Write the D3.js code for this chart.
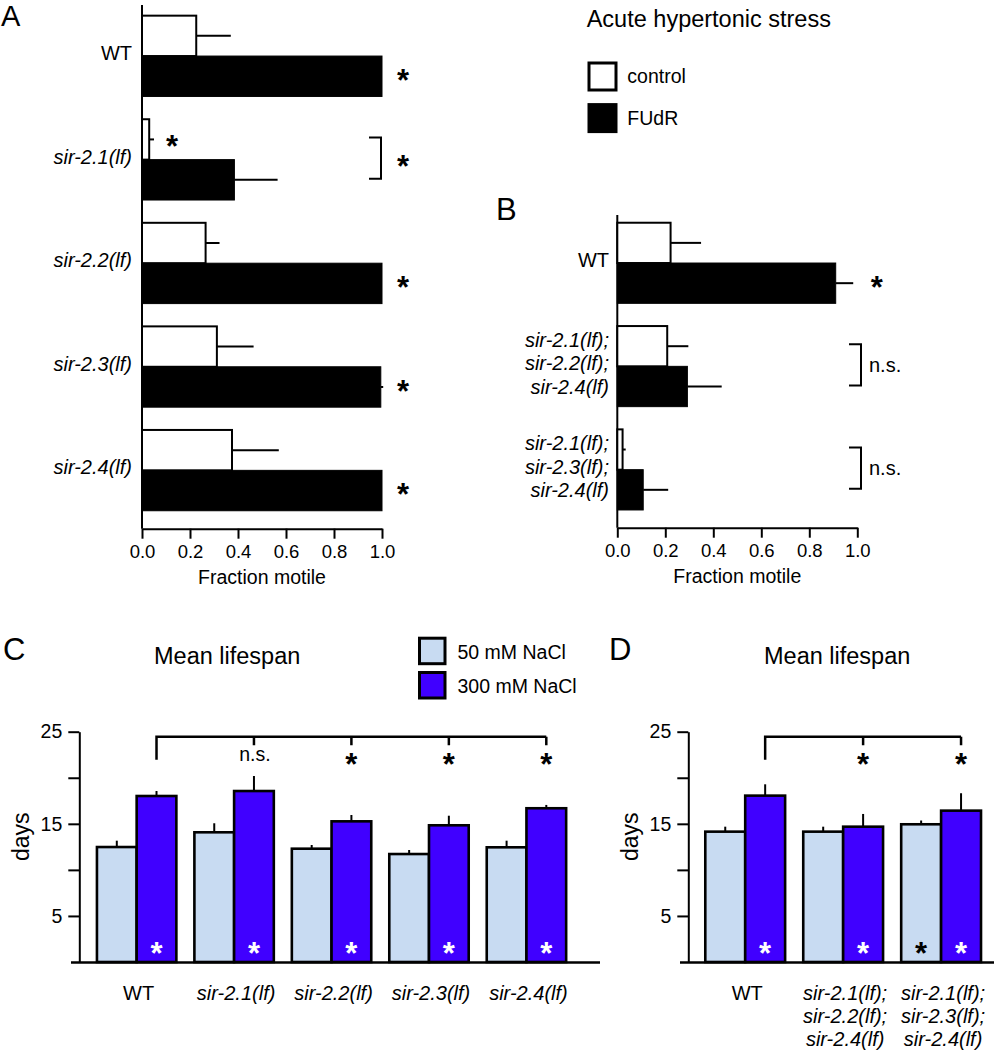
<!DOCTYPE html>
<html>
<head>
<meta charset="utf-8">
<script src="https://cdn.jsdelivr.net/npm/d3@7"></script>
<style>
  html, body { margin: 0; padding: 0; background: #fff; }
  svg { display: block; }
</style>
</head>
<body>
<div id="chart"></div>
<script>
// ---------------- DATA ----------------
// Panel A: acute hypertonic stress, single mutants
const genosA = ["WT", "sir-2.1(lf)", "sir-2.2(lf)", "sir-2.3(lf)", "sir-2.4(lf)"];
const controlA = [0.226, 0.030, 0.265, 0.312, 0.375];
const controlErrA = [0.144, 0.020, 0.058, 0.153, 0.195];
const fudrA = [1.0, 0.385, 1.0, 0.995, 1.0];
const fudrErrA = [0, 0.180, 0, 0.010, 0];
const sigTypeA = ["fudr", "bracket", "fudr", "fudr", "fudr"];
const sigLabelA = ["*", "*", "*", "*", "*"];
const controlSigA = ["", "*", "", "", ""];

// Panel B: triple mutants
const genosB = [["WT"], ["sir-2.1(lf);", "sir-2.2(lf);", "sir-2.4(lf)"], ["sir-2.1(lf);", "sir-2.3(lf);", "sir-2.4(lf)"]];
const controlB = [0.222, 0.208, 0.022];
const controlErrB = [0.127, 0.088, 0.013];
const fudrB = [0.910, 0.292, 0.108];
const fudrErrB = [0.073, 0.143, 0.104];
const sigTypeB = ["fudr", "bracket", "bracket"];
const sigLabelB = ["*", "n.s.", "n.s."];

const xTicksAB = [0, 0.2, 0.4, 0.6, 0.8, 1.0];
const seriesAB = ["control", "FUdR"];

// Panel C: mean lifespan, single mutants
const genosC = [["WT"], ["sir-2.1(lf)"], ["sir-2.2(lf)"], ["sir-2.3(lf)"], ["sir-2.4(lf)"]];
const nacl50C = [12.48, 14.08, 12.30, 11.72, 12.45];
const err50C = [0.69, 0.98, 0.40, 0.44, 0.72];
const nacl300C = [18.02, 18.56, 15.27, 14.84, 16.69];
const err300C = [0.54, 1.63, 0.69, 1.04, 0.36];
const inStar50C = ["", "", "", "", ""];
const inStar300C = ["*", "*", "*", "*", "*"];
const vsWtC = ["", "n.s.", "*", "*", "*"];

// Panel D: mean lifespan, triple mutants
const genosD = [["WT"], ["sir-2.1(lf);", "sir-2.2(lf);", "sir-2.4(lf)"], ["sir-2.1(lf);", "sir-2.3(lf);", "sir-2.4(lf)"]];
const nacl50D = [14.15, 14.15, 14.95];
const err50D = [0.54, 0.54, 0.41];
const nacl300D = [18.06, 14.69, 16.43];
const err300D = [1.23, 1.38, 1.89];
const inStar50D = ["", "", "*"];
const inStar300D = ["*", "*", "*"];
const vsWtD = ["", "*", "*"];

const seriesCD = ["50 mM NaCl", "300 mM NaCl"];
const yTicksCD = [5, 10, 15, 20, 25];
const yLabelTicksCD = [5, 15, 25];

// ---------------- STYLE ----------------
const FONT = "'Liberation Sans', Arial, Helvetica, sans-serif";
const LIGHT = "#c8dbf2";
const PURPLE = "#4000ff";
const LABEL_FS = "20px";

const W = 995, H = 1050;
const svg = d3.select("#chart").append("svg")
  .attr("width", W).attr("height", H)
  .style("font-family", FONT);

function star(g, x, y, fill, size) {
  size = size || 31;
  g.append("text")
    .attr("x", x).attr("y", y)
    .attr("dy", "0.54em")
    .attr("text-anchor", "middle")
    .style("font-size", size + "px")
    .style("font-weight", "bold")
    .attr("fill", fill)
    .text("*");
}

function panelLetter(txt, x, y, fs) {
  svg.append("text").attr("x", x).attr("y", y)
    .style("font-size", (fs || 31) + "px").attr("fill", "#000").text(txt);
}

// ---------------- HORIZONTAL PANELS (A, B) ----------------
function hPanel(o) {
  const g = svg.append("g");
  const x = d3.scaleLinear().domain([0, 1]).range(o.xRange);
  const keys = o.genos.map((d, i) => i);
  const y = d3.scaleBand().domain(keys).range(o.yRange).paddingInner(0.22).paddingOuter(0.1);
  const sub = d3.scaleBand().domain(seriesAB).range([0, y.bandwidth()]);

  // vertical axis line
  g.append("line").attr("x1", x(0)).attr("x2", x(0))
    .attr("y1", o.axisTop).attr("y2", o.axisY)
    .attr("stroke", "#000").attr("stroke-width", 2);

  // x axis
  const ax = g.append("g").attr("transform", `translate(0,${o.axisY})`)
    .call(d3.axisBottom(x).tickValues(xTicksAB).tickFormat(d3.format(".1f"))
      .tickSize(10).tickSizeOuter(0).tickPadding(6));
  ax.select(".domain").attr("stroke-width", 2);
  ax.selectAll(".tick line").attr("stroke-width", 2);
  ax.selectAll(".tick text").style("font-size", "18.5px").style("font-family", FONT).attr("fill", "#000");
  g.append("text").attr("x", (x(0) + x(1)) / 2).attr("y", o.axisY + 48)
    .attr("dy", "0.35em").attr("text-anchor", "middle")
    .style("font-size", "19.5px").text("Fraction motile");

  keys.forEach(i => {
    const yc = y(i) + sub("control");
    const yf = y(i) + sub("FUdR");
    const h = sub.bandwidth();
    // control bar
    g.append("rect").attr("x", x(0)).attr("y", yc)
      .attr("width", x(o.ctrl[i]) - x(0)).attr("height", h)
      .attr("fill", "#fff").attr("stroke", "#000").attr("stroke-width", 2);
    g.append("line").attr("x1", x(o.ctrl[i])).attr("x2", x(o.ctrl[i] + o.ctrlErr[i]))
      .attr("y1", yc + h / 2).attr("y2", yc + h / 2)
      .attr("stroke", "#000").attr("stroke-width", 2);
    // FUdR bar
    g.append("rect").attr("x", x(0)).attr("y", yf)
      .attr("width", x(o.fudr[i]) - x(0)).attr("height", h)
      .attr("fill", "#000").attr("stroke", "#000").attr("stroke-width", 1);
    if (o.fudrErr[i] > 0) {
      g.append("line").attr("x1", x(o.fudr[i])).attr("x2", x(o.fudr[i] + o.fudrErr[i]))
        .attr("y1", yf + h / 2).attr("y2", yf + h / 2)
        .attr("stroke", "#000").attr("stroke-width", 2);
    }
    // control-specific significance
    if (o.ctrlSig && o.ctrlSig[i]) {
      star(g, x(o.ctrl[i] + o.ctrlErr[i]) + 18, yc + h / 2 + 1, "#000");
    }
    // significance
    if (o.sigType[i] === "fudr") {
      star(g, x(1) + o.starOff, yf + h / 2 - 2, "#000");
    } else if (o.sigType[i] === "bracket") {
      const bx = x(1) + o.brOff;
      const y1 = yc + h / 2 - 2, y2 = yf + h / 2 - 1;
      g.append("path").attr("d", `M${bx - 12},${y1}H${bx}V${y2}H${bx - 12}`)
        .attr("fill", "none").attr("stroke", "#000").attr("stroke-width", 2);
      if (o.sigLabel[i] === "*") {
        star(g, x(1) + o.starOff, (y1 + y2) / 2 + 2, "#000");
      } else {
        g.append("text").attr("x", bx + 8).attr("y", (y1 + y2) / 2)
          .attr("dy", "0.35em").style("font-size", LABEL_FS).text(o.sigLabel[i]);
      }
    }
    // category label
    const lines = Array.isArray(o.genos[i]) ? o.genos[i] : [o.genos[i]];
    const cy = y(i) + y.bandwidth() / 2 - 3;
    lines.forEach((ln, k) => {
      g.append("text").attr("x", o.labelX)
        .attr("y", cy + (k - (lines.length - 1) / 2) * 23.7)
        .attr("dy", "0.35em").attr("text-anchor", "end")
        .style("font-size", LABEL_FS)
        .style("font-style", ln === "WT" ? "normal" : "italic")
        .text(ln);
    });
  });
}

hPanel({
  genos: genosA, ctrl: controlA, ctrlErr: controlErrA, fudr: fudrA, fudrErr: fudrErrA,
  sigType: sigTypeA, sigLabel: sigLabelA, ctrlSig: controlSigA,
  xRange: [142, 382], yRange: [5.3, 521.1], axisY: 528.7, axisTop: 5,
  labelX: 132, starOff: 21, brOff: -1
});

hPanel({
  genos: genosB, ctrl: controlB, ctrlErr: controlErrB, fudr: fudrB, fudrErr: fudrErrB,
  sigType: sigTypeB, sigLabel: sigLabelB, ctrlSig: null,
  xRange: [617.3, 857.3], yRange: [212.4, 520.3], axisY: 527.7, axisTop: 215,
  labelX: 609, starOff: 19.4, brOff: 3.7
});

// Legend A/B
(function () {
  const g = svg.append("g");
  g.append("text").attr("x", 586.7).attr("y", 18.3).attr("dy", "0.35em")
    .style("font-size", "23.5px").text("Acute hypertonic stress");
  const items = [{ k: seriesAB[0], fill: "#fff", y: 61.7 }, { k: seriesAB[1], fill: "#000", y: 103.3 }];
  items.forEach(it => {
    g.append("rect").attr("x", 589).attr("y", it.y + 1.3).attr("width", 27).attr("height", 27)
      .attr("fill", it.fill).attr("stroke", "#000").attr("stroke-width", 3);
    g.append("text").attr("x", 627.3).attr("y", it.y + 14.5).attr("dy", "0.35em")
      .style("font-size", "19.5px").text(it.k);
  });
})();

// ---------------- VERTICAL PANELS (C, D) ----------------
function vPanel(o) {
  const g = svg.append("g");
  const y = d3.scaleLinear().domain([0, 25]).range([962, 731.7]);
  const keys = o.genos.map((d, i) => i);
  const x = d3.scaleBand().domain(keys).range(o.xRange).paddingInner(0.185).paddingOuter(0.1);
  const sub = d3.scaleBand().domain(seriesCD).range([0, x.bandwidth()]);

  // y axis
  const ay = g.append("g").attr("transform", `translate(${o.axisX},0)`)
    .call(d3.axisLeft(y).tickValues(yTicksCD)
      .tickFormat(d => yLabelTicksCD.includes(d) ? d : "")
      .tickSize(11).tickSizeOuter(0).tickPadding(6));
  ay.select(".domain").attr("stroke-width", 2);
  ay.selectAll(".tick line").attr("stroke-width", 2);
  ay.selectAll(".tick text").style("font-size", "19.5px").style("font-family", FONT).attr("fill", "#000");
  g.append("text").attr("transform", `translate(${o.axisX - 58.5},${y(13.6)}) rotate(-90)`)
    .attr("dy", "0.35em").attr("text-anchor", "middle")
    .style("font-size", "23px").text("days");

  // bars
  keys.forEach(i => {
    const vals = [o.v50[i], o.v300[i]];
    const errs = [o.e50[i], o.e300[i]];
    const fills = [LIGHT, PURPLE];
    const ins = [o.s50[i], o.s300[i]];
    seriesCD.forEach((s, k) => {
      const bx = x(i) + sub(s);
      const cx = bx + sub.bandwidth() / 2;
      g.append("line").attr("x1", cx).attr("x2", cx)
        .attr("y1", y(vals[k])).attr("y2", y(vals[k] + errs[k]))
        .attr("stroke", "#000").attr("stroke-width", 2);
      g.append("rect").attr("x", bx).attr("y", y(vals[k]))
        .attr("width", sub.bandwidth()).attr("height", y(0) - y(vals[k]))
        .attr("fill", fills[k]).attr("stroke", "#000").attr("stroke-width", 2.6);
      if (ins[k]) {
        star(g, cx, y(0) - 15, k === 0 ? "#000" : "#fff");
      }
    });
    // category labels
    const lines = o.genos[i];
    lines.forEach((ln, k) => {
      g.append("text").attr("x", x(i) + x.bandwidth() / 2 + 2)
        .attr("y", y(0) + 31 + k * 23.2)
        .attr("dy", "0.35em").attr("text-anchor", "middle")
        .style("font-size", LABEL_FS)
        .style("font-style", ln === "WT" ? "normal" : "italic")
        .text(ln);
    });
  });

  // x axis line
  g.append("line").attr("x1", o.xLine[0]).attr("x2", o.xLine[1])
    .attr("y1", y(0) + 0.5).attr("y2", y(0) + 0.5)
    .attr("stroke", "#000").attr("stroke-width", 2.5);

  // comparison bracket vs WT (300 mM bars)
  const c300 = i => x(i) + sub(seriesCD[1]) + sub.bandwidth() / 2;
  const by = y(25) + 5;
  const last = keys[keys.length - 1];
  let d = `M${c300(0)},${by + 23}V${by}H${c300(last)}`;
  keys.slice(1).forEach(i => { d += `M${c300(i)},${by}V${by + 8.5}`; });
  g.append("path").attr("d", d).attr("fill", "none")
    .attr("stroke", "#000").attr("stroke-width", 2.5);
  keys.forEach(i => {
    const lab = o.vsWt[i];
    if (lab === "*") star(g, c300(i), by + 21.5, "#000");
    else if (lab) {
      g.append("text").attr("x", c300(i) + 1).attr("y", by + 17.5).attr("dy", "0.35em")
        .attr("text-anchor", "middle").style("font-size", "19.5px").text(lab);
    }
  });

  // title
  g.append("text").attr("x", o.titleX).attr("y", 656).attr("dy", "0.35em")
    .style("font-size", "23.5px").text("Mean lifespan");
}

vPanel({
  genos: genosC, v50: nacl50C, e50: err50C, v300: nacl300C, e300: err300C,
  s50: inStar50C, s300: inStar300C, vsWt: vsWtC,
  xRange: [87.2, 575.9], axisX: 79.3, xLine: [71, 600], titleX: 154
});

vPanel({
  genos: genosD, v50: nacl50D, e50: err50D, v300: nacl300D, e300: err300D,
  s50: inStar50D, s300: inStar300D, vsWt: vsWtD,
  xRange: [695.5, 990.8], axisX: 688.3, xLine: [680, 994], titleX: 764
});

// Legend C/D
(function () {
  const g = svg.append("g");
  const items = [{ k: seriesCD[0], fill: LIGHT, y: 636.7 }, { k: seriesCD[1], fill: PURPLE, y: 671 }];
  items.forEach(it => {
    g.append("rect").attr("x", 419.5).attr("y", it.y + 1.5).attr("width", 25.5).attr("height", 25.5)
      .attr("fill", it.fill).attr("stroke", "#000").attr("stroke-width", 3);
    g.append("text").attr("x", 457.5).attr("y", it.y + 15).attr("dy", "0.35em")
      .style("font-size", "19.5px").text(it.k);
  });
})();

// Panel letters
panelLetter("A", 1, 26, 29);
panelLetter("B", 496, 220);
panelLetter("C", 3, 660);
panelLetter("D", 609, 659.5);
</script>
</body>
</html>
